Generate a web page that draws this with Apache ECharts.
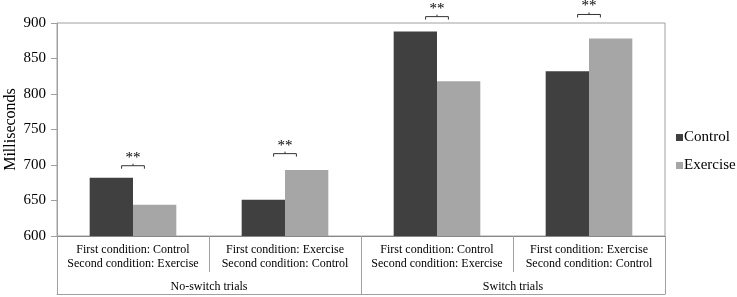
<!DOCTYPE html>
<html>
<head>
<meta charset="utf-8">
<script src="https://cdn.jsdelivr.net/npm/echarts@6/dist/echarts.min.js"></script>
<style>
  html, body { margin: 0; padding: 0; background: #fff; }
  #chart { width: 737px; height: 297px; }
</style>
</head>
<body>
<div id="chart"></div>
<script>
// values
const categories = [
  'First condition: Control\nSecond condition: Exercise',
  'First condition: Exercise\nSecond condition: Control',
  'First condition: Control\nSecond condition: Exercise',
  'First condition: Exercise\nSecond condition: Control'
];
const trialGroups = ['No-switch trials', 'Switch trials'];
const controlValues = [682, 651, 888, 832];
const exerciseValues = [644, 693, 818, 878];
// height of the ** significance brackets
const bracketLevels = [699, 716, 909, 912];
const yTicks = { min: 600, max: 900, interval: 50 };

const serif = 'Liberation Serif';
const lineGray = '#a0a0a0';

const chart = echarts.init(document.getElementById('chart'));

const options = {
  animation: false,
  textStyle: { fontFamily: serif },
  grid: {
    left: 57, right: 72, top: 23, bottom: 61,
    containLabel: false, outerBoundsMode: 'none',
    show: true, borderColor: lineGray, borderWidth: 1
  },
  legend: {
    data: ['Control', 'Exercise'],
    orient: 'vertical',
    left: 671,
    top: 125,
    itemWidth: 7,
    itemHeight: 7,
    itemGap: 13,
    icon: 'rect',
    textStyle: { fontFamily: serif, fontSize: 15, color: '#000', padding: [0, 0, 0, -4] }
  },
  xAxis: [
    {
      type: 'category',
      position: 'bottom',
      data: categories,
      axisLine: { show: true, lineStyle: { color: '#888' } },
      axisTick: { show: true, interval: 0, length: 36, lineStyle: { color: lineGray } },
      axisLabel: { interval: 0, margin: 7, fontFamily: serif, fontSize: 12, lineHeight: 14, color: '#000' }
    },
    {
      type: 'category',
      position: 'bottom',
      data: trialGroups,
      axisLine: { show: false },
      axisTick: { show: true, interval: 0, length: 58, lineStyle: { color: lineGray } },
      axisLabel: { interval: 0, margin: 45, fontFamily: serif, fontSize: 12, color: '#000' }
    },
    {
      type: 'category',
      position: 'bottom',
      data: trialGroups,
      offset: 58,
      axisLine: { show: true, lineStyle: { color: lineGray } },
      axisTick: { show: false },
      axisLabel: { show: false }
    }
  ],
  yAxis: {
    type: 'value',
    min: yTicks.min,
    max: yTicks.max,
    interval: yTicks.interval,
    name: 'Milliseconds',
    nameLocation: 'middle',
    nameRotate: 90,
    nameGap: 38,
    nameMoveOverlap: false,
    nameTextStyle: { fontFamily: serif, fontSize: 16, color: '#000' },
    axisLine: { show: true, lineStyle: { color: lineGray } },
    axisTick: { show: true, length: 6, lineStyle: { color: lineGray } },
    axisLabel: { margin: 11, fontFamily: serif, fontSize: 15, color: '#000' },
    splitLine: { show: false }
  },
  series: [
    {
      name: 'Control',
      type: 'bar',
      data: controlValues,
      barGap: '0%',
      barCategoryGap: '43%',
      itemStyle: { color: '#404040' }
    },
    {
      name: 'Exercise',
      type: 'bar',
      data: exerciseValues,
      itemStyle: { color: '#a6a6a6' }
    },
    {
      name: 'sig',
      type: 'custom',
      clip: false,
      silent: true,
      data: bracketLevels.map((v, i) => [i, v]),
      renderItem: function (params, api) {
        const p = api.coord([api.value(0), api.value(1)]);
        const half = api.size([1, 0])[0] * 0.075;
        return {
          type: 'group',
          children: [
            {
              type: 'polyline',
              shape: { points: [[p[0] - half, p[1] + 3], [p[0] - half, p[1]], [p[0] + half, p[1]], [p[0] + half, p[1] + 3]] },
              style: { stroke: '#333', fill: null, lineWidth: 1 }
            },
            {
              type: 'line',
              shape: { x1: p[0], y1: p[1], x2: p[0], y2: p[1] - 2 },
              style: { stroke: '#333', lineWidth: 1 }
            },
            {
              type: 'text',
              x: p[0],
              y: p[1] - 8,
              style: { text: '**', fontFamily: serif, fontSize: 15, fill: '#000', align: 'center', verticalAlign: 'middle' }
            }
          ]
        };
      }
    }
  ]
};

chart.setOption(options);
</script>
</body>
</html>
